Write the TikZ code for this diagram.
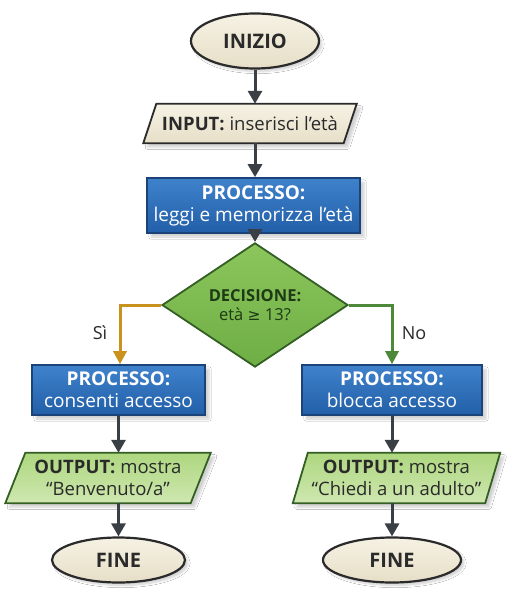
\documentclass[tikz,border=0pt]{standalone}
\usepackage{fontspec}
\setmainfont{Open Sans}
\newfontfamily\symf{DejaVu Sans}
\usetikzlibrary{arrows.meta,shapes.geometric,backgrounds,shadows.blur}
\definecolor{arrgray}{HTML}{3A3E45}
\definecolor{cream}{HTML}{F6F2E4}
\definecolor{creamdk}{HTML}{E6DEC7}
\definecolor{bluetop}{HTML}{3F82CC}
\definecolor{bluebot}{HTML}{225FA8}
\definecolor{bluedk}{HTML}{1C4379}
\definecolor{greentop}{HTML}{8CC65C}
\definecolor{greenbot}{HTML}{6EAE45}
\definecolor{greendk}{HTML}{335F24}
\definecolor{lgtop}{HTML}{ADD77F}
\definecolor{lgbot}{HTML}{CFE7B0}
\definecolor{yesc}{HTML}{C9921E}
\definecolor{noc}{HTML}{4C8A3A}
\definecolor{txtdk}{HTML}{2A2A2A}
\definecolor{txtgreen}{HTML}{1E3A16}
\tikzset{
  x=1pt, y=-1pt,
  termbox/.style={ellipse, draw=txtdk, line width=2.2pt, inner sep=0pt,
    top color=cream, bottom color=creamdk, text=txtdk,
    font=\fontsize{20}{24}\selectfont\bfseries,
    blur shadow={shadow xshift=3pt, shadow yshift=-3pt, shadow opacity=18, shadow blur steps=6}},
  procbox/.style={rectangle, draw=bluedk, line width=1.6pt, inner sep=0pt,
    top color=bluetop, bottom color=bluebot, text=white, align=center,
    font=\fontsize{19}{22}\selectfont,
    blur shadow={shadow xshift=4pt, shadow yshift=-4pt, shadow opacity=18, shadow blur steps=6}},
  decbox/.style={diamond, draw=greendk, line width=1.8pt, inner sep=0pt,
    top color=greentop, bottom color=greenbot, text=txtgreen, align=center,
    font=\fontsize{16.5}{19.5}\selectfont},
  textonly/.style={inner sep=0pt, align=center, text=txtdk, font=\fontsize{18.5}{21.5}\selectfont},
  arr/.style={draw=arrgray, line width=3pt, -{Triangle[length=13pt,width=14pt]}},
  yesarr/.style={draw=yesc, line width=3pt, -{Triangle[length=13pt,width=13pt]}},
  noarr/.style={draw=noc, line width=3pt, -{Triangle[length=13pt,width=13pt]}},
  inshape/.style={draw=txtdk, line width=1.8pt, top color=cream, bottom color=creamdk,
    blur shadow={shadow xshift=4pt, shadow yshift=-4pt, shadow opacity=18, shadow blur steps=6}},
  outshape/.style={draw=greendk, line width=1.8pt, top color=lgtop, bottom color=lgbot,
    blur shadow={shadow xshift=4pt, shadow yshift=-4pt, shadow opacity=18, shadow blur steps=6}},
  lbl/.style={text=txtdk, font=\fontsize{18}{22}\selectfont}
}
\begin{document}
\begin{tikzpicture}
\useasboundingbox (0,0) rectangle (513,605);

% nodes
\node[termbox, minimum width=128pt, minimum height=55pt] (start) at (255,41) {INIZIO};
\node[textonly, minimum width=200pt, minimum height=39pt] (input) at (250,123.5) {\textbf{INPUT:} inserisci l’età};
\node[procbox, minimum width=213pt, minimum height=55pt] (proc) at (253.5,205.5) {\textbf{PROCESSO:}\\leggi e memorizza l’età};
\node[decbox, minimum width=186pt, minimum height=82pt] (dec) at (255,305) {\textbf{DECISIONE:}\\età {\symf\fontsize{15.5}{18}\selectfont ≥} 13?};
\node[procbox, minimum width=173pt, minimum height=50pt] (yesp) at (118.5,390) {\textbf{PROCESSO:}\\consenti accesso};
\node[procbox, minimum width=180pt, minimum height=50pt] (nop) at (392,390) {\textbf{PROCESSO:}\\blocca accesso};
\node[textonly, minimum width=185pt, minimum height=50pt] (yeso) at (108,478) {\textbf{OUTPUT:} mostra\\“Benvenuto/a”};
\node[textonly, minimum width=192pt, minimum height=50pt] (noo) at (396.5,478) {\textbf{OUTPUT:} mostra\\“Chiedi a un adulto”};
\node[termbox, minimum width=133pt, minimum height=45pt] (endy) at (118.5,560) {FINE};
\node[termbox, minimum width=138pt, minimum height=45pt] (endn) at (392,560) {FINE};

% background and parallelogram bodies
\begin{scope}[on background layer]
\fill[white] (0,0) rectangle (513,605);
\path[inshape] ([xshift=6.5pt]input.north west) -- ([xshift=6.5pt]input.north east)
  -- ([xshift=-6.5pt]input.south east) -- ([xshift=-6.5pt]input.south west) -- cycle;
\path[outshape] ([xshift=10pt]yeso.north west) -- ([xshift=10pt]yeso.north east)
  -- ([xshift=-10pt]yeso.south east) -- ([xshift=-10pt]yeso.south west) -- cycle;
\path[outshape] ([xshift=7.5pt]noo.north west) -- ([xshift=7.5pt]noo.north east)
  -- ([xshift=-7.5pt]noo.south east) -- ([xshift=-7.5pt]noo.south west) -- cycle;
\end{scope}

% connectors
\draw[arr] (start.south) -- (start.south |- input.north);
\draw[arr] (start.south |- input.south) -- (start.south |- proc.north);
\draw[arr] (start.south |- proc.south) -- (dec.north);
\coordinate (ycorner) at (120,305);
\coordinate (ncorner) at (392,305);
\draw[yesarr] (dec.west) -- (ycorner) -- (ycorner |- yesp.north);
\draw[noarr] (dec.east) -- (ncorner) -- (ncorner |- nop.north);
\draw[arr] (yesp.south) -- (yesp.south |- yeso.north);
\draw[arr] (yesp.south |- yeso.south) -- (endy.north);
\draw[arr] (nop.south) -- (nop.south |- noo.north);
\draw[arr] (nop.south |- noo.south) -- (endn.north);

% branch labels
\node[lbl] (si) at (100,333) {Sì};
\node[lbl] (no) at (414,333) {No};
\end{tikzpicture}
\end{document}
